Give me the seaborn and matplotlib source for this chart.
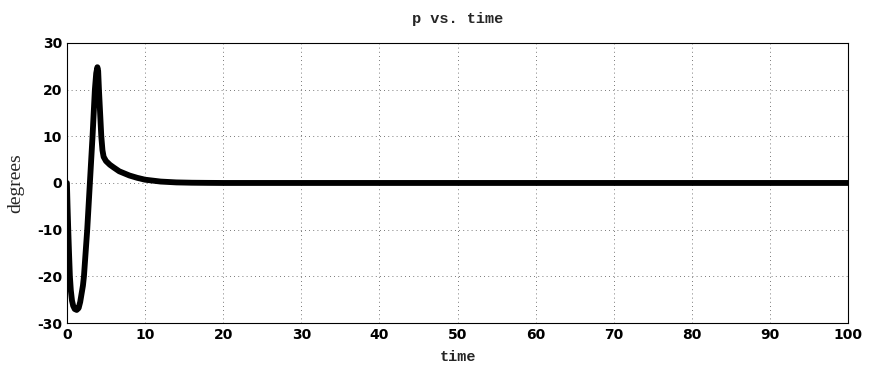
import numpy as np
import pandas as pd
import matplotlib
matplotlib.use('Agg')
import matplotlib.pyplot as plt
import seaborn as sns

# values
time = [0, 0.08, 0.17, 0.27, 0.38, 0.5, 0.65, 0.8, 1.0, 1.25, 1.5, 1.7, 1.9, 2.05, 2.18, 2.6, 2.94,
        3.28, 3.58, 3.75, 3.9, 4.0, 4.1, 4.25, 4.4, 4.55, 4.7, 5.0, 5.5, 6, 6.7, 8, 9, 10, 12, 14,
        16, 18, 20, 30, 100]
p_deg = [0, -5, -10, -15, -20, -23, -25.2, -26.3, -27, -27.2, -26.8, -25.5, -23.5, -22, -20, -10, 0,
         10, 20, 23.5, 24.8, 24, 20, 15, 10, 7, 5.6, 4.7, 3.9, 3.3, 2.5, 1.6, 1.1, 0.7, 0.3, 0.12,
         0.05, 0.02, 0, 0, 0]
x_ticks = [0, 10, 20, 30, 40, 50, 60, 70, 80, 90, 100]
y_ticks = [-30, -20, -10, 0, 10, 20, 30]

df = pd.DataFrame({'time': time, 'p': p_deg})

sns.set_style('white')
plt.rcParams['axes.unicode_minus'] = False
fig, ax = plt.subplots(figsize=(8.69, 3.70), dpi=100)
sns.lineplot(data=df, x='time', y='p', color='black', linewidth=4.2, sort=False, ax=ax)

ax.set_xlim(0, 100)
ax.set_ylim(-30, 30)
ax.set_xticks(x_ticks)
ax.set_yticks(y_ticks)
ax.tick_params(direction='in', length=4, labelsize=10, colors='black')
for lab in ax.get_xticklabels() + ax.get_yticklabels():
    lab.set_fontweight('bold')
ax.grid(True, linestyle=(0, (1, 4)), color='black', linewidth=0.6, alpha=0.7)
for s in ax.spines.values():
    s.set_color('black')
    s.set_linewidth(0.8)

ax.set_title('p vs. time', family='Liberation Mono', fontweight='bold', fontsize=11, pad=14)
ax.set_xlabel('time', family='Liberation Mono', fontweight='bold', fontsize=11, labelpad=6)
ax.set_ylabel('degrees', family='Liberation Serif', fontsize=14, labelpad=9)

plt.subplots_adjust(left=0.077, right=0.976, top=0.884, bottom=0.127)
plt.savefig('out.png', dpi=100)
